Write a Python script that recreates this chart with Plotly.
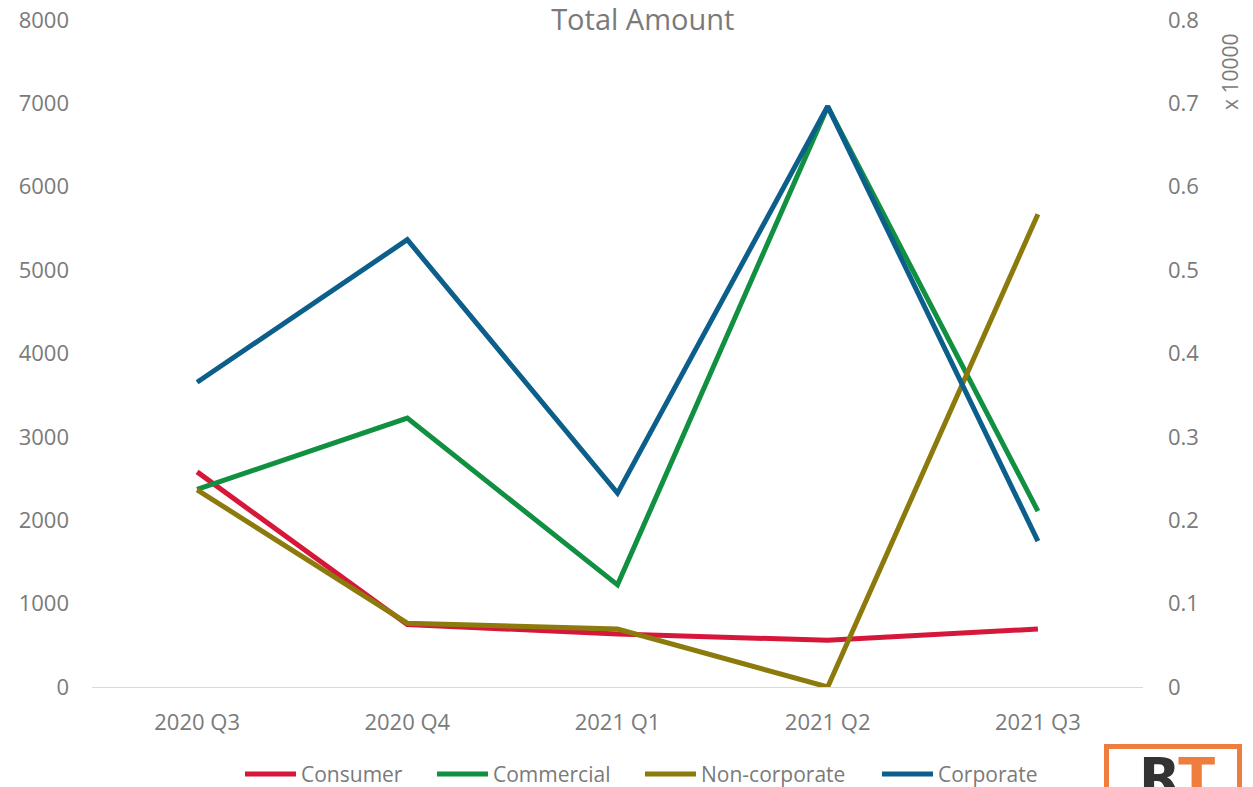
import plotly.graph_objects as go

# Quarterly totals per customer segment
quarters = ["2020 Q3", "2020 Q4", "2021 Q1", "2021 Q2", "2021 Q3"]
consumer = [2580, 750, 635, 560, 695]
commercial = [2370, 3225, 1225, 6960, 2110]
non_corporate = [2365, 765, 695, 0, 5670]
corporate = [3655, 5365, 2325, 6965, 1750]

right_ticks = [0, 0.1, 0.2, 0.3, 0.4, 0.5, 0.6, 0.7, 0.8]

series = [
    ("Consumer", consumer, "#D6173A"),
    ("Commercial", commercial, "#109040"),
    ("Non-corporate", non_corporate, "#8C7A0C"),
    ("Corporate", corporate, "#0D5F8B"),
]

W, H = 1253, 787
ML, MR, MT, MB = 92, 110, 20, 100
PW, PH = W - ML - MR, H - MT - MB


def px(x):
    return (x - ML) / PW


def py(y):
    return (H - MB - y) / PH


FONT = "Open Sans"
GREY = "#7a7a7a"

fig = go.Figure()
for name, vals, color in series:
    fig.add_trace(go.Scatter(
        x=quarters, y=vals, name=name, mode="lines",
        line=dict(color=color, width=5), showlegend=False,
    ))

# Empty companion trace so the right-hand (x 10000) axis is drawn
fig.add_trace(go.Scatter(
    x=quarters, y=[None] * len(quarters), yaxis="y2",
    mode="lines", showlegend=False, hoverinfo="skip",
))

fig.update_layout(
    width=W, height=H,
    margin=dict(l=ML, r=MR, t=MT, b=MB, autoexpand=False),
    paper_bgcolor="white", plot_bgcolor="white",
    font=dict(family=FONT, size=22, color=GREY),
    title=dict(text="Total Amount", x=0.513, xanchor="center", y=0.975, yanchor="middle",
               font=dict(size=29, color=GREY, family=FONT)),
    xaxis=dict(
        type="category", range=[-0.5, len(quarters) - 0.5],
        showgrid=False, zeroline=False,
        showline=True, linecolor="#d9d9d9", linewidth=1,
        ticks="", ticklabelstandoff=16,
        tickfont=dict(size=22, color=GREY),
    ),
    yaxis=dict(
        range=[0, 8000], dtick=1000, showgrid=False, zeroline=False,
        showline=False, ticks="", ticklabelstandoff=22,
        tickfont=dict(size=22, color=GREY),
    ),
    yaxis2=dict(
        range=[0, 0.8], tickvals=right_ticks, ticktext=[f"{v:g}" for v in right_ticks],
        overlaying="y", side="right", showgrid=False, zeroline=False,
        showline=False, ticks="", ticklabelstandoff=24,
        tickfont=dict(size=22, color=GREY),
    ),
    showlegend=False,
)

# Legend: a short thick key line followed by the series name
legend_x = [243, 435, 643, 880]
legend_y = 774
for (name, _, color), lx in zip(series, legend_x):
    fig.add_shape(
        type="line", xref="paper", yref="paper",
        x0=px(lx + 2), x1=px(lx + 53), y0=py(legend_y), y1=py(legend_y),
        line=dict(color=color, width=5),
    )
    fig.add_annotation(
        text=name, xref="paper", yref="paper", x=px(lx + 56), y=py(legend_y),
        xanchor="left", yanchor="middle", showarrow=False,
        font=dict(size=21, color=GREY, family=FONT),
    )

# Scale multiplier label for the right axis
fig.add_annotation(
    text="x 10000", textangle=-90, xref="paper", yref="paper",
    x=px(1230), y=py(72), xanchor="center", yanchor="middle",
    showarrow=False, font=dict(size=21, color=GREY, family=FONT),
)

# Brand mark in the lower-right corner
fig.add_shape(
    type="rect", xref="paper", yref="paper",
    x0=px(1106.5), x1=px(1239.5), y0=py(746.5), y1=py(820),
    line=dict(color="#EF7D3E", width=5), fillcolor="white", layer="above",
)
fig.add_annotation(
    text="<b>R<span style='color:#EF7D3E'>T</span></b>", xref="paper", yref="paper",
    x=px(1137), y=py(744), xanchor="left", yanchor="top", showarrow=False,
    font=dict(size=54, color="#333333", family="DejaVu Sans"),
)

fig.write_html("out.html")
